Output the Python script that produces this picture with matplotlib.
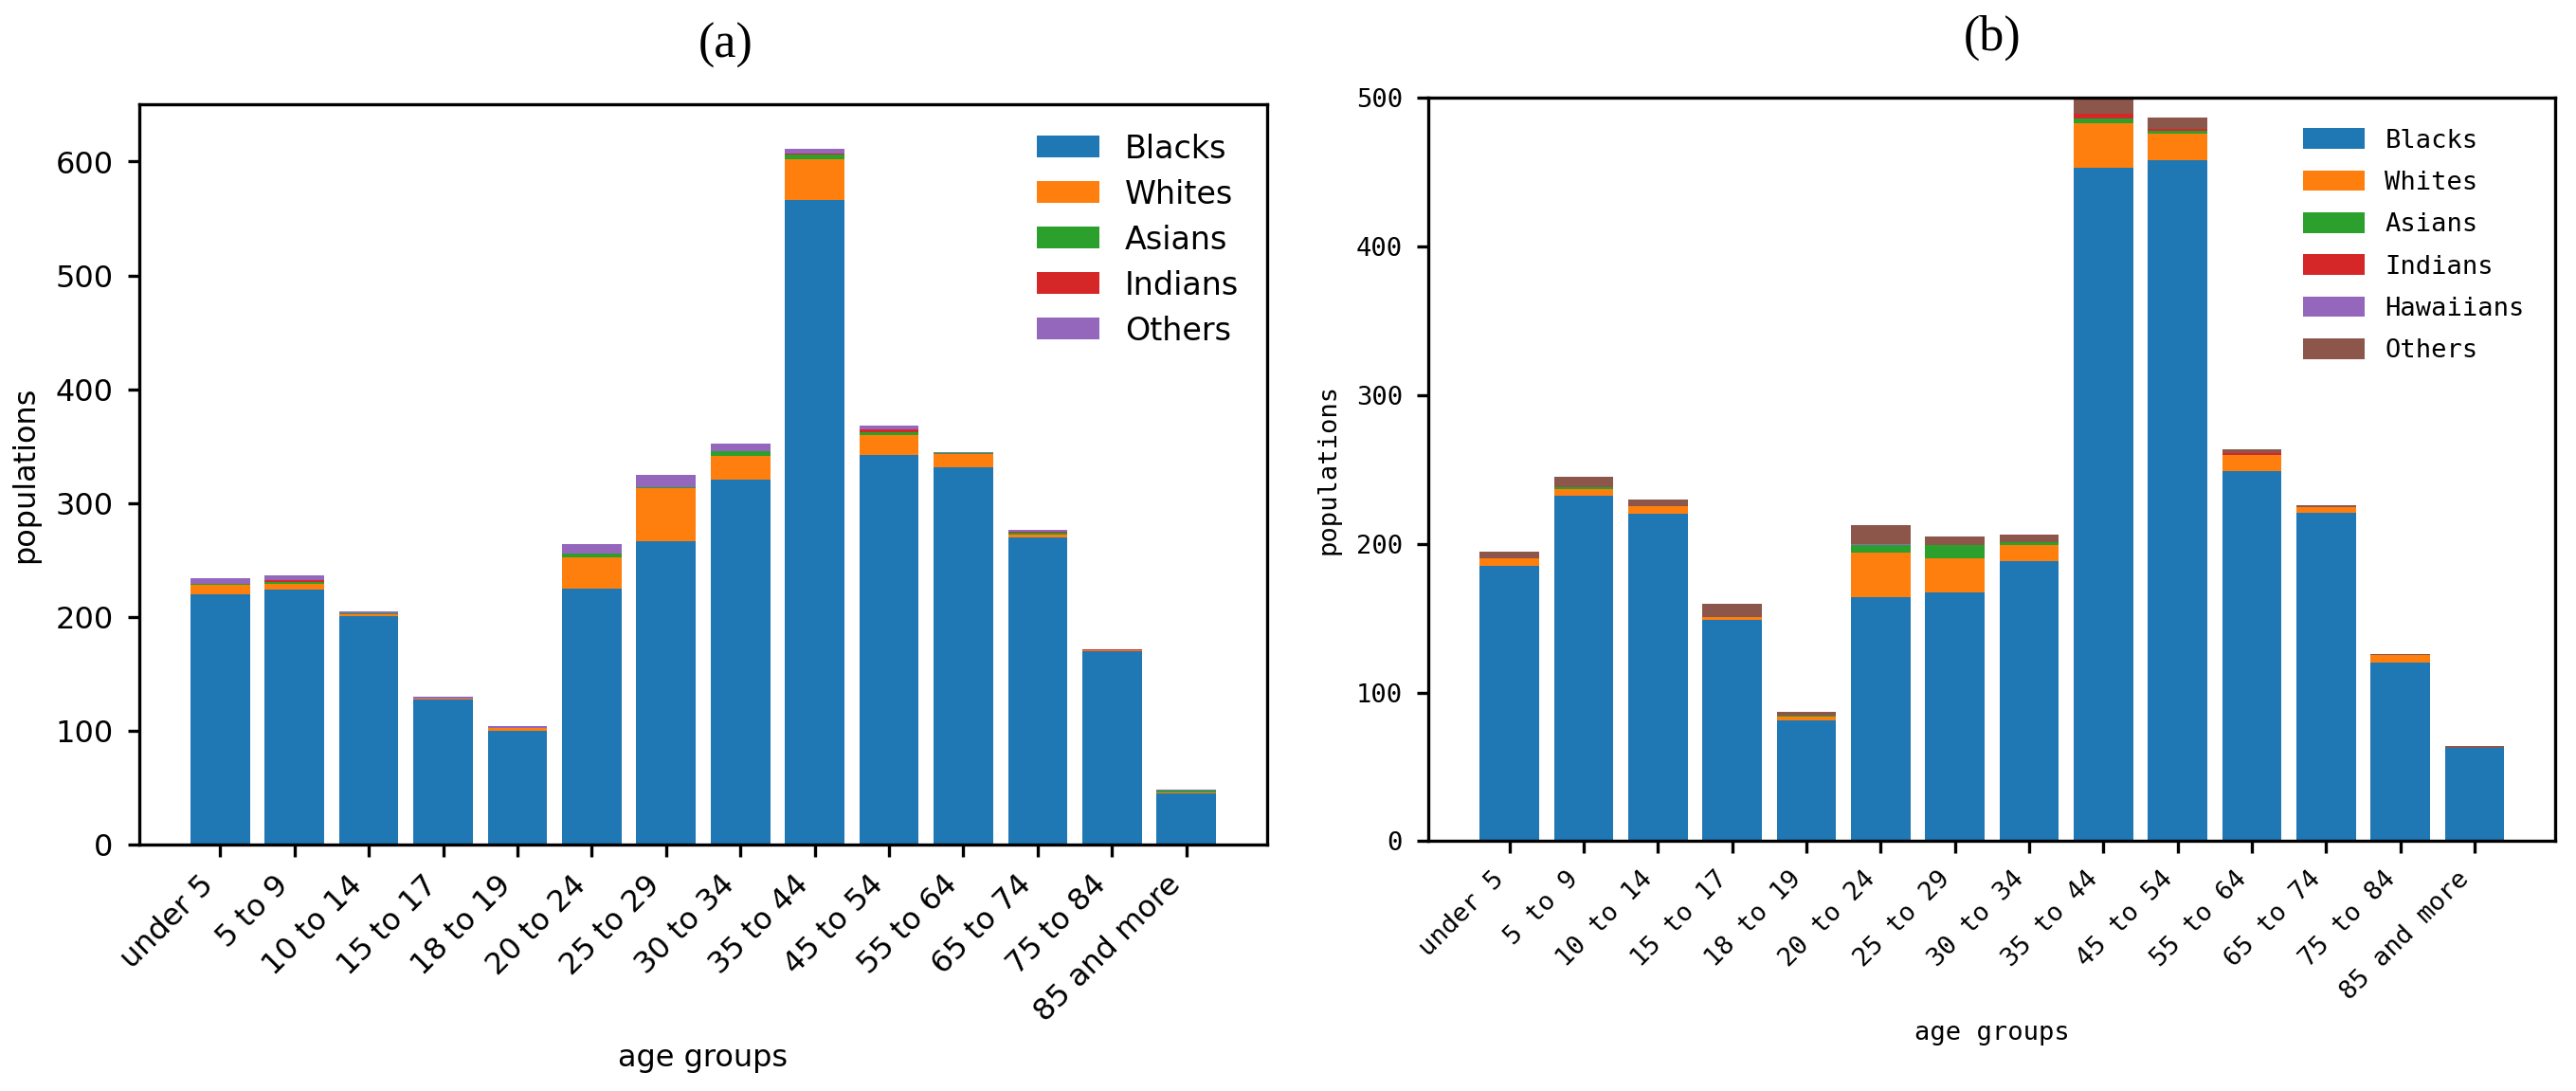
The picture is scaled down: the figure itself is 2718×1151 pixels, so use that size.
import numpy as np
import matplotlib
matplotlib.use("Agg")
import matplotlib.pyplot as plt

age_groups = ["under 5", "5 to 9", "10 to 14", "15 to 17", "18 to 19", "20 to 24",
              "25 to 29", "30 to 34", "35 to 44", "45 to 54", "55 to 64", "65 to 74",
              "75 to 84", "85 and more"]

# panel (a)
a_blacks = [220, 224, 201, 127, 99.5, 225, 266, 320.5, 566, 342, 331, 270, 169.5, 45]
a_whites = [8, 4.5, 1, 1.5, 2.5, 27.5, 47, 20.7, 36, 18, 12, 2.5, 1, 0.3]
a_asians = [0.5, 2.2, 1.5, 0, 0, 3, 0.5, 4, 4, 2.5, 1, 1.3, 0, 2]
a_indians = [0, 1.9, 0, 0, 0.5, 0, 0, 0, 0.7, 2.5, 0, 1.3, 0.6, 0]
a_others = [5, 3.5, 1.5, 1, 1.6, 8.5, 11.5, 6.7, 4.3, 2.6, 0.5, 1, 0.7, 0.6]

# panel (b)
b_blacks = [185, 232.5, 220, 148.5, 81, 164, 167, 188.5, 452.5, 458, 249, 220.5, 120, 63]
b_whites = [5, 4, 5, 2, 3, 30, 23.5, 10.3, 30, 17.5, 10.5, 4.4, 5, 0]
b_asians = [0, 1.2, 0, 0, 0.5, 5.4, 8.3, 2.4, 3.2, 2, 0, 0, 0, 0]
b_indians = [0, 0, 0, 0, 0, 0, 0, 0, 3.2, 1.5, 1.5, 0, 0, 0]
b_hawaiians = [0, 0, 0, 0, 0, 0.5, 0, 0, 0, 0, 0, 0, 0, 0]
b_others = [4.7, 7.5, 5, 8.8, 2.2, 12.7, 6, 5.2, 12, 7.3, 2.5, 1.2, 1, 1]

plt.rcParams['xtick.major.size'] = 3.0
plt.rcParams['ytick.major.size'] = 3.0


def stacked(ax, series, labels):
    x = np.arange(len(age_groups))
    bottom = np.zeros(len(age_groups))
    for vals, lab in zip(series, labels):
        ax.bar(x, vals, bottom=bottom, label=lab)
        bottom += np.array(vals)
    ax.set_xticks(x)
    return x


fig = plt.figure(figsize=(9.06, 3.837), dpi=300)

# left
fs = 7.7
ax1 = fig.add_axes([0.054, 0.226, 0.438, 0.678])
stacked(ax1, [a_blacks, a_whites, a_asians, a_indians, a_others],
        ["Blacks", "Whites", "Asians", "Indians", "Others"])
ax1.set_ylim(0, 650)
ax1.set_xticklabels(age_groups, rotation=45, ha="right", fontsize=fs)
ax1.tick_params(axis="y", labelsize=fs)
ax1.set_xlabel("age groups", fontsize=fs)
ax1.set_ylabel("populations", fontsize=fs)
ax1.set_title("(a)", fontsize=12.5, family="Liberation Serif", pad=12, x=0.52)
ax1.legend(loc="upper right", frameon=False, fontsize=8, labelspacing=0.45,
           borderaxespad=0.5)

# right
mono = "DejaVu Sans Mono"
ms = 6.5
ax2 = fig.add_axes([0.5545, 0.229, 0.4375, 0.6815])
stacked(ax2, [b_blacks, b_whites, b_asians, b_indians, b_hawaiians, b_others],
        ["Blacks", "Whites", "Asians", "Indians", "Hawaiians", "Others"])
ax2.set_ylim(0, 500)
ax2.set_xticklabels(age_groups, rotation=45, ha="right", fontsize=ms, family=mono)
for t in ax2.get_yticklabels():
    t.set_family(mono)
    t.set_fontsize(ms)
ax2.set_xlabel("age groups", fontsize=ms, family=mono)
ax2.set_ylabel("populations", fontsize=ms, family=mono)
ax2.set_title("(b)", fontsize=12.5, family="Liberation Serif", pad=12)
ax2.legend(loc="upper right", frameon=False, prop={"family": mono, "size": ms},
           labelspacing=0.67, handlelength=2.4, handleheight=0.85, borderaxespad=0.8)

fig.savefig("out.png", dpi=300)
